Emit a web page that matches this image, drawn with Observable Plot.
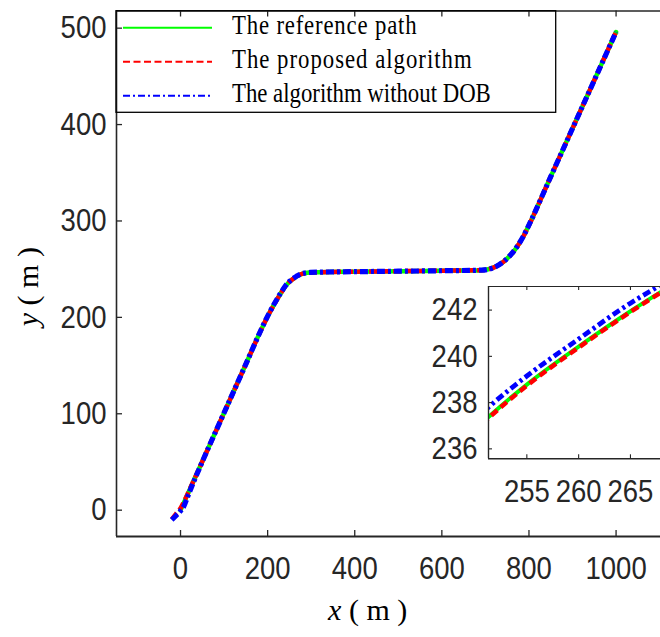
<!DOCTYPE html>
<html>
<head>
<meta charset="utf-8">
<script src="https://cdn.jsdelivr.net/npm/d3@7"></script>
<script src="https://cdn.jsdelivr.net/npm/@observablehq/plot@0.6"></script>
<style>
  html, body { margin: 0; padding: 0; background: #fff; }
  #chart { position: relative; width: 660px; height: 637px; overflow: hidden; }
  #chart svg { position: absolute; overflow: visible; }
</style>
</head>
<body>
<div id="chart"></div>
<script>
// Reference path (x, y in metres)
const refX = [0, 50, 100, 150, 185, 200, 214, 228, 241, 251.3, 255, 260, 265, 268, 275, 285, 298, 320, 400, 500, 600, 691, 717, 742.3, 766, 787.4, 797.1, 850, 900, 950, 1000];
const refY = [0, 50.5, 101, 151.5, 187, 201, 212.6, 223.4, 232.4, 237.38, 238.78, 240.42, 241.95, 242.8, 244.5, 245.8, 246.55, 246.9, 247.4, 247.9, 248.4, 249, 251.3, 258, 269.1, 284.1, 292.9, 346, 396, 446, 496];

// Trajectory of the proposed algorithm
const propX = [-20, -10, 0, 10, 20, 30, 50, 100, 150, 185, 200, 214, 228, 241, 251.3, 255, 260, 265, 268, 275, 285, 298, 320, 400, 500, 600, 691, 717, 742.3, 766, 787.4, 797.1, 850, 900, 950, 1000];
const propY = [-9.5, -3.5, 2, 10.8, 20.6, 30.5, 50.5, 101, 151.5, 187, 201, 212.6, 223.4, 232.4, 237.33, 238.73, 240.38, 241.92, 242.77, 244.5, 245.8, 246.55, 246.9, 247.4, 247.9, 248.4, 249, 251.3, 258, 269.1, 284.1, 292.9, 346, 396, 446, 496.3];

// Trajectory of the algorithm without the disturbance observer
const dobX = [-20, -10, 0, 8, 15, 25, 40, 50, 100, 150, 185, 200, 214, 228, 241, 251.3, 255, 260, 265, 268, 275, 285, 298, 320, 400, 500, 600, 691, 717, 742.3, 766, 787.4, 797.1, 850, 900, 950, 1000];
const dobY = [-10, -5.5, -0.8, 4.5, 12.5, 23.8, 39.8, 50.3, 101, 151.5, 187.2, 201.3, 213.0, 223.8, 232.8, 237.8, 239.15, 240.75, 242.3, 243.1, 244.8, 246.0, 246.65, 246.95, 247.4, 247.9, 248.4, 249, 251.3, 258.1, 269.3, 284.3, 293.1, 346, 396, 446, 496];

// Axis ticks
const xTicks = [0, 200, 400, 600, 800, 1000];
const yTicks = [0, 100, 200, 300, 400, 500];
const insetXTicks = [255, 260, 265];
const insetYTicks = [236, 238, 240, 242];

// Legend entries
const seriesNames = ["The reference path", "The proposed algorithm", "The algorithm without DOB"];
const seriesColors = ["#00ff00", "#ff0000", "#0000ff"];

const rows = (xs, ys) => xs.map((x, i) => ({x, y: ys[i]}));
const ref = rows(refX, refY);
const prop = rows(propX, propY);
const dob = rows(dobX, dobY);

const ink = "#262626";
const tickFont = "'Liberation Sans', Arial, Helvetica, sans-serif";
const serifFont = "'Liberation Serif', 'Times New Roman', serif";
const squeezeK = 0.86;

// narrow the tick label glyphs horizontally, keeping their anchors fixed
function squeeze(svg) {
  svg.querySelectorAll('g[aria-label$="tick label"] text').forEach(t => {
    const tr = t.getAttribute("transform");
    if (tr) t.setAttribute("transform", tr + ` scale(${squeezeK},1)`);
    else {
      const x = +t.getAttribute("x") || 0, y = +t.getAttribute("y") || 0;
      t.removeAttribute("x"); t.removeAttribute("y");
      t.setAttribute("transform", `translate(${x},${y}) scale(${squeezeK},1)`);
    }
  });
}

function pathMarks(opts) {
  return [
    Plot.line(ref, {x: "x", y: "y", stroke: seriesColors[0], strokeWidth: opts.w0, curve: "monotone-x", clip: true}),
    Plot.line(prop, {x: "x", y: "y", stroke: seriesColors[1], strokeWidth: opts.w1, strokeDasharray: opts.d1, strokeLinecap: "butt", curve: "monotone-x", clip: true}),
    Plot.line(dob, {x: "x", y: "y", stroke: seriesColors[2], strokeWidth: opts.w2, strokeDasharray: opts.d2, strokeLinecap: "butt", curve: "monotone-x", clip: true})
  ];
}

// ---- main axes ----
const W = 660, H = 637;
const mL = 116, mR = 0, mT = 10.5, mB = 101;
const plotW = W - mL - mR, plotH = H - mT - mB;
const xDomain = [-147, 1102];
const yDomain = [-27.3, 517.8];

const mainChart = Plot.plot({
  width: W, height: H,
  marginLeft: mL, marginRight: mR, marginTop: mT, marginBottom: mB,
  style: {fontFamily: tickFont, color: ink, background: "transparent", overflow: "visible"},
  x: {domain: xDomain},
  y: {domain: yDomain},
  marks: [
    ...pathMarks({w0: 4.5, w1: 4.5, w2: 5.2, d1: "8,4", d2: "8,3,3,3"}),
    Plot.ruleY([yDomain[1]], {stroke: ink, strokeWidth: 1.3}),
    Plot.ruleY([yDomain[0]], {stroke: ink, strokeWidth: 2}),
    Plot.ruleX([xDomain[0]], {stroke: ink, strokeWidth: 1.6}),
    Plot.tickX(xTicks, {x: d => d, insetTop: plotH - 6, stroke: ink, strokeWidth: 1.3}),
    Plot.tickX(xTicks, {x: d => d, insetBottom: plotH - 6, stroke: ink, strokeWidth: 1.3}),
    Plot.tickY(yTicks, {y: d => d, insetRight: plotW - 6, stroke: ink, strokeWidth: 1.3}),
    Plot.axisX({ticks: xTicks, tickSize: 0, tickPadding: 20, fontSize: 32, label: null, tickFormat: d => String(d)}),
    Plot.axisY({ticks: yTicks, tickSize: 0, tickPadding: 10, fontSize: 32, label: null, tickFormat: d => String(d)})
  ]
});
mainChart.style.left = "0px";
mainChart.style.top = "0px";
squeeze(mainChart);

// ---- zoomed inset ----
const iLeft = 408, iTop = 282, iW = 252, iH = 226;
const imL = 80, imT = 4, imB = 49.7, imR = 0;
const iPlotW = iW - imL - imR, iPlotH = iH - imT - imB;
const ixDomain = [251.3, 267.9];
const iyDomain = [235.57, 243.02];

const insetChart = Plot.plot({
  width: iW, height: iH,
  marginLeft: imL, marginRight: imR, marginTop: imT, marginBottom: imB,
  style: {fontFamily: tickFont, color: ink, background: "transparent", overflow: "visible"},
  x: {domain: ixDomain},
  y: {domain: iyDomain},
  marks: [
    Plot.frame({fill: "white", stroke: null}),
    ...pathMarks({w0: 4, w1: 4.5, w2: 4.8, d1: "8,4.5", d2: "8,3.5,3,3.5"}),
    Plot.ruleY([iyDomain[1]], {stroke: ink, strokeWidth: 1.2}),
    Plot.ruleY([iyDomain[0]], {stroke: ink, strokeWidth: 1.4}),
    Plot.ruleX([ixDomain[0]], {stroke: ink, strokeWidth: 1.4}),
    Plot.tickX(insetXTicks, {x: d => d, insetTop: iPlotH - 4, stroke: ink, strokeWidth: 1.1}),
    Plot.tickX(insetXTicks, {x: d => d, insetBottom: iPlotH - 4, stroke: ink, strokeWidth: 1.1}),
    Plot.tickY(insetYTicks, {y: d => d, insetRight: iPlotW - 4, stroke: ink, strokeWidth: 1.1}),
    Plot.axisX({ticks: insetXTicks, tickSize: 0, tickPadding: 20, fontSize: 32, label: null, tickFormat: d => String(d)}),
    Plot.axisY({ticks: insetYTicks, tickSize: 0, tickPadding: 11, fontSize: 32, label: null, tickFormat: d => String(d)})
  ]
});
insetChart.style.left = iLeft + "px";
insetChart.style.top = iTop + "px";
squeeze(insetChart);

const root = document.getElementById("chart");
root.appendChild(mainChart);
root.appendChild(insetChart);

// ---- legend and axis titles ----
const svgNS = "http://www.w3.org/2000/svg";
const over = d3.select(root).append("svg")
  .attr("xmlns", svgNS)
  .attr("width", W).attr("height", H)
  .style("left", "0px").style("top", "0px")
  .style("pointer-events", "none");

const lg = over.append("g").attr("font-family", serifFont);
lg.append("rect")
  .attr("x", 116).attr("y", 10.7).attr("width", 439.7).attr("height", 101.6)
  .attr("fill", "none").attr("stroke", "#000").attr("stroke-width", 1.3);
const legendDash = [null, "7,3.5", "7,3,2,3"];
const legendTracking = [0.95, 1.15, 0];
seriesNames.forEach((name, i) => {
  const ly = 27.7 + i * 34;
  lg.append("line")
    .attr("x1", 123).attr("x2", 212).attr("y1", ly).attr("y2", ly)
    .attr("stroke", seriesColors[i]).attr("stroke-width", 2)
    .attr("stroke-dasharray", legendDash[i]);
  lg.append("text")
    .attr("transform", `translate(232,${ly + 6.7}) scale(${squeezeK},1)`)
    .attr("font-size", 26.5).attr("fill", "#000")
    .attr("letter-spacing", legendTracking[i])
    .text(name);
});

function axisTitle(g, letter) {
  g.append("tspan").attr("font-style", "italic").text(letter);
  g.append("tspan").text(" ( m )");
}
const xt = over.append("text")
  .attr("x", 367.7).attr("y", 620).attr("text-anchor", "middle")
  .attr("font-family", serifFont)
  .attr("font-size", 30).attr("fill", "#000");
axisTitle(xt, "x");
const yt = over.append("text")
  .attr("transform", "translate(38,286.7) rotate(-90)").attr("text-anchor", "middle")
  .attr("font-family", serifFont)
  .attr("font-size", 30).attr("fill", "#000");
axisTitle(yt, "y");
</script>
</body>
</html>
